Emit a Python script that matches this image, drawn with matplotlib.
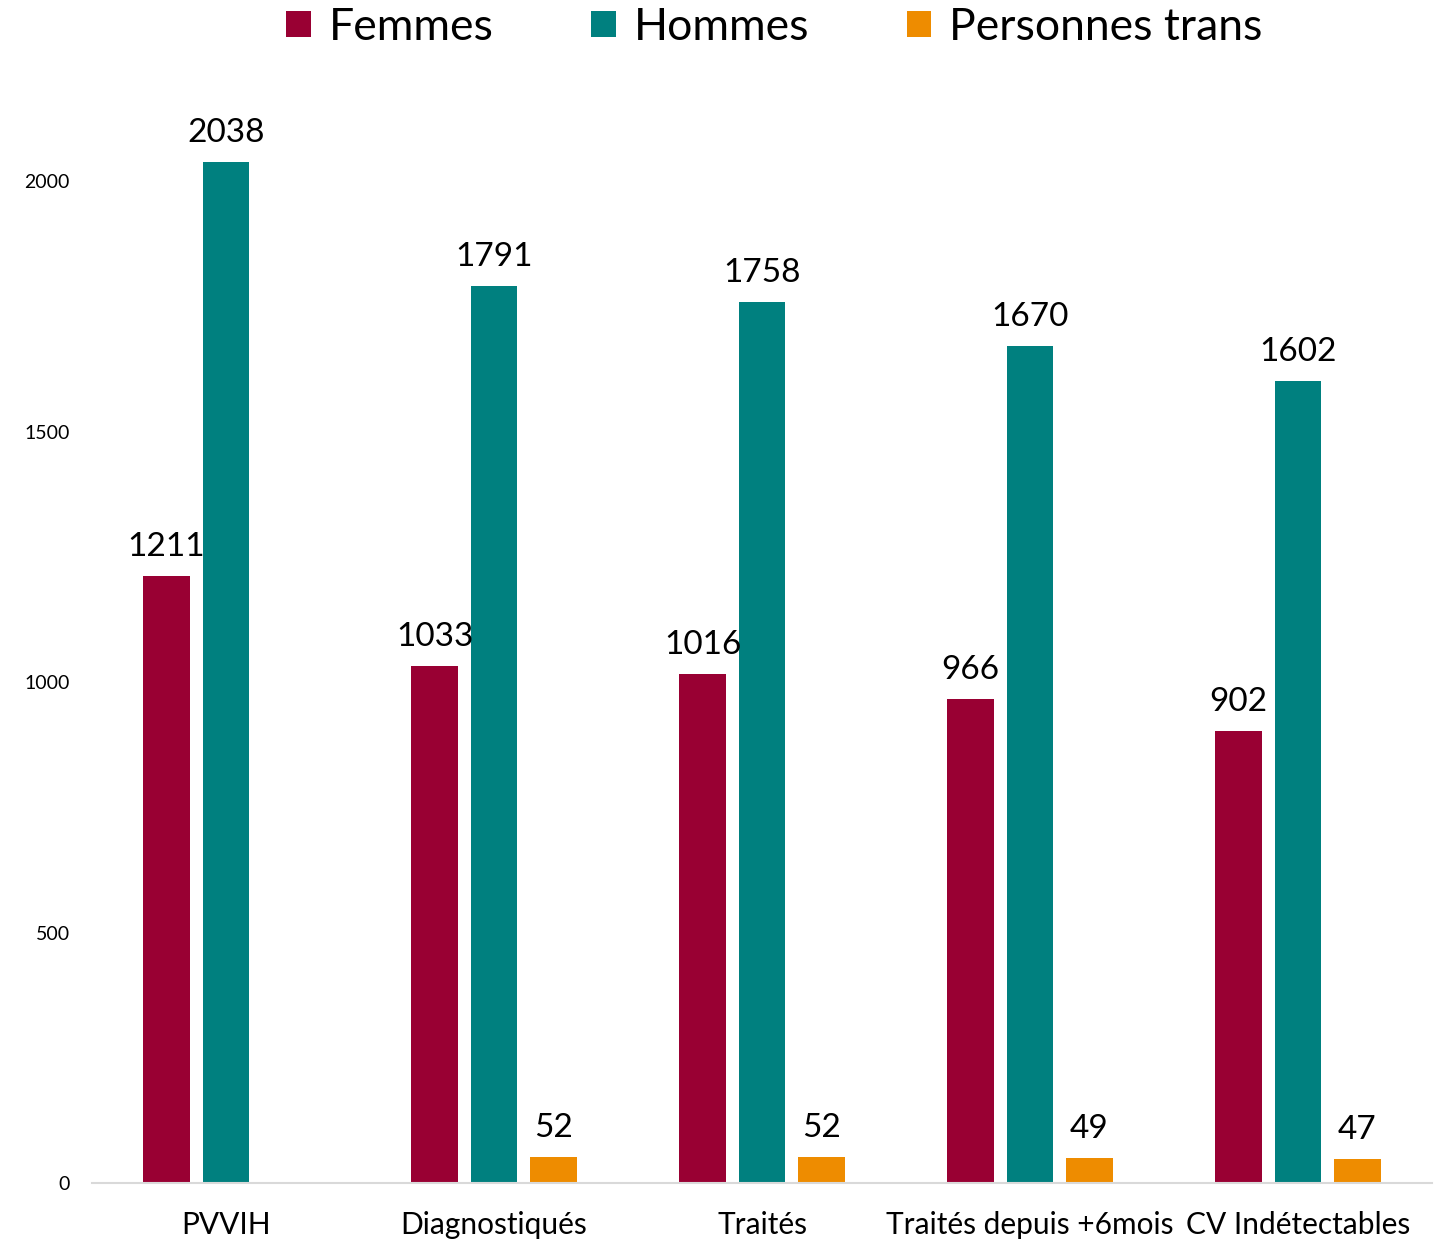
import matplotlib.pyplot as plt
import numpy as np

plt.rcParams['font.family'] = ['Lato', 'DejaVu Sans']

categories = ["PVVIH", "Diagnostiqués", "Traités", "Traités depuis +6mois", "CV Indétectables"]
femmes = [1211, 1033, 1016, 966, 902]
hommes = [2038, 1791, 1758, 1670, 1602]
trans = [None, 52, 52, 49, 47]

series = [
    ("Femmes", femmes, "#990033"),
    ("Hommes", hommes, "#00807f"),
    ("Personnes trans", trans, "#ee8c00"),
]

fig = plt.figure(figsize=(14.34, 12.42), dpi=100)
ax = fig.add_axes([92 / 1434, 59 / 1242, 1340 / 1434, 1102 / 1242])

x = np.arange(len(categories))
width = 0.175
step = 0.222

for i, (name, vals, color) in enumerate(series):
    xs = [xi + (i - 1) * step for xi, v in zip(x, vals) if v is not None]
    vs = [v for v in vals if v is not None]
    bars = ax.bar(xs, vs, width=width, color=color, label=name)
    for b, v in zip(bars, vs):
        ax.text(b.get_x() + b.get_width() / 2, v + 28, str(v),
                ha="center", va="bottom", fontsize=24, color="black")

ax.set_xlim(-0.5, 4.5)
ax.set_ylim(0, 2200)
ax.set_yticks([0, 500, 1000, 1500, 2000])
ax.set_xticks(x)
ax.set_xticklabels(categories, fontsize=21.5)
ax.tick_params(axis="y", length=0, pad=16, labelsize=14)
ax.tick_params(axis="x", length=0, pad=20)

for side in ["top", "right", "left"]:
    ax.spines[side].set_visible(False)
ax.spines["bottom"].set_color("#d9d9d9")
ax.spines["bottom"].set_linewidth(1.5)

fig.legend(loc="center", bbox_to_anchor=(0.54, 0.978), ncol=3, frameon=False,
           fontsize=32, handlelength=0.55, handleheight=0.55, handletextpad=0.4,
           columnspacing=2.2, borderaxespad=0)

fig.savefig("out.png", dpi=100)
